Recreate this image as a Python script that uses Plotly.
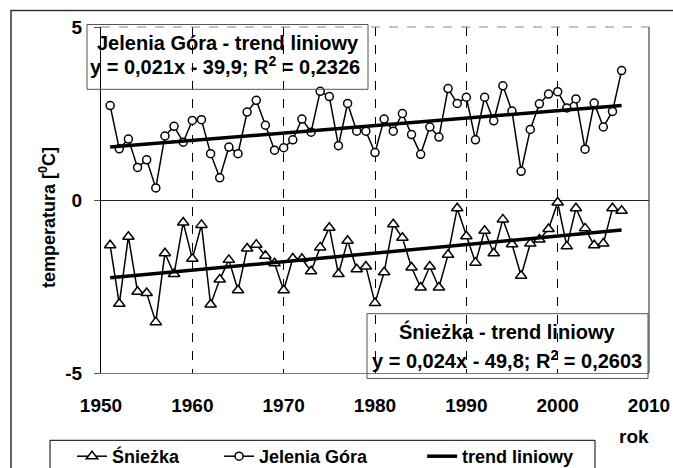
import plotly.graph_objects as go

years = list(range(1951, 2008))
jelenia_gora = [2.73, 1.48, 1.76, 0.94, 1.16, 0.35, 1.85, 2.13, 1.67, 2.30,
                2.32, 1.34, 0.64, 1.53, 1.34, 2.54, 2.88, 2.16, 1.44,
                1.51, 1.74, 2.34, 1.96, 3.14, 2.99, 1.57, 2.79, 1.99, 1.99,
                1.37, 2.34, 1.99, 2.50, 1.89, 1.32, 2.11, 1.82, 3.22, 2.79,
                2.97, 1.74, 2.97, 2.29, 3.30, 2.57, 0.83, 2.04, 2.78, 3.06,
                3.13, 2.66, 2.92, 1.47, 2.80, 2.11, 2.56, 3.74]
sniezka = [-1.31, -3.00, -1.06, -2.65, -2.69, -3.53, -1.54, -2.14, -0.65, -1.70,
           -0.72, -3.02, -2.30, -1.73, -2.61, -1.40, -1.29, -1.61, -1.83,
           -2.61, -1.69, -1.70, -2.06, -1.37, -0.80, -2.14, -1.18, -2.00, -1.92,
           -2.98, -2.09, -0.70, -1.09, -1.95, -2.53, -1.92, -2.53, -1.58, -0.24,
           -1.05, -1.81, -0.89, -1.54, -0.56, -1.28, -2.19, -1.26, -1.14, -0.84,
           -0.07, -1.34, -0.24, -0.82, -1.31, -1.26, -0.24, -0.31]
trend_years = [1951, 2007]
trend_jg = [1.53, 2.73]
trend_sn = [-2.25, -0.87]

x_ticks = [1950, 1960, 1970, 1980, 1990, 2000, 2010]
x_tick_labels = ["1950", "1960", "1970", "1980", "1990", "2000", "2010"]
y_ticks = [-5, 0, 5]
y_tick_labels = ["-5", "0", "5"]

FONT = "Liberation Sans, Arial, sans-serif"
W, H = 673, 468
L, R, T, B = 101, 649, 26.5, 373.5
NB = "\u00a0"


def px(xp):
    return (xp - L) / (R - L)


def py(yp):
    return (B - yp) / (B - T)


fig = go.Figure()
fig.add_trace(go.Scatter(
    x=years, y=sniezka, mode="lines+markers", name="Śnieżka" + NB * 7,
    line=dict(color="black", width=1.5),
    marker=dict(symbol="triangle-up", size=10, color="white",
                line=dict(color="black", width=1.5))))
fig.add_trace(go.Scatter(
    x=years, y=jelenia_gora, mode="lines+markers", name="Jelenia Góra" + NB * 10,
    line=dict(color="black", width=1.5),
    marker=dict(symbol="circle", size=8, color="white",
                line=dict(color="black", width=1.5))))
fig.add_trace(go.Scatter(
    x=trend_years, y=trend_sn, mode="lines", name="trend liniowy",
    line=dict(color="black", width=3.5)))
fig.add_trace(go.Scatter(
    x=trend_years, y=trend_jg, mode="lines", name="trend liniowy",
    showlegend=False, line=dict(color="black", width=3.5)))

shapes = [
    # outer chart border
    dict(type="rect", xref="paper", yref="paper",
         x0=px(11), x1=px(690), y0=py(10), y1=py(490),
         line=dict(color="#333", width=1.5), layer="below"),
    # plot top border
    dict(type="line", xref="paper", yref="paper",
         x0=0, x1=1, y0=1, y1=1, line=dict(color="#888", width=1, dash="dash")),
    # plot right border
    dict(type="line", xref="paper", yref="paper",
         x0=1, x1=1, y0=0, y1=1, line=dict(color="#444", width=1.2)),
    # text boxes
    dict(type="rect", xref="paper", yref="paper",
         x0=px(87), x1=px(368), y0=py(24), y1=py(89),
         line=dict(color="#555", width=1)),
    dict(type="rect", xref="paper", yref="paper",
         x0=px(367), x1=px(648), y0=py(314), y1=py(379),
         line=dict(color="#555", width=1)),
    # legend frame
    dict(type="rect", xref="paper", yref="paper",
         x0=px(50), x1=px(595), y0=py(441), y1=py(490),
         line=dict(color="black", width=1)),
]

ann_font = dict(family=FONT, size=20, color="black", weight="bold")
annotations = [
    dict(text="Jelenia Góra - trend liniowy", x=px(228), y=py(43)),
    dict(text="y = 0,021x - 39,9; R<sup>2</sup> = 0,2326", x=px(225), y=py(65)),
    dict(text="Śnieżka - trend liniowy", x=px(507), y=py(332)),
    dict(text="y = 0,024x - 49,8; R<sup>2</sup> = 0,2603", x=px(507), y=py(360)),
]
annotations = [dict(a, xref="paper", yref="paper", showarrow=False,
                    xanchor="center", yanchor="middle", font=ann_font)
               for a in annotations]
annotations.append(dict(text="temperatura [<sup>0</sup>C]", x=px(48), y=py(217),
                        xref="paper", yref="paper", showarrow=False, textangle=-90,
                        xanchor="center", yanchor="middle",
                        font=dict(family=FONT, size=18, color="black", weight="bold")))
annotations.append(dict(text="rok", x=px(634), y=py(437),
                        xref="paper", yref="paper", showarrow=False,
                        xanchor="center", yanchor="middle",
                        font=dict(family=FONT, size=19, color="black", weight="bold")))

fig.update_layout(
    width=W, height=H,
    margin=dict(l=L, r=W - R, t=T, b=H - B, pad=0, autoexpand=False),
    paper_bgcolor="white", plot_bgcolor="white",
    font=dict(family=FONT, size=19, color="black", weight="bold"),
    shapes=shapes, annotations=annotations,
    showlegend=True,
    legend=dict(orientation="h", xref="container", yref="container",
                x=72 / W, y=1 - 438 / H, xanchor="left", yanchor="top",
                borderwidth=0, bgcolor="rgba(0,0,0,0)",
                font=dict(family=FONT, size=18, color="black", weight="bold")),
    xaxis=dict(range=[1950, 2010], tickvals=x_ticks, ticktext=x_tick_labels,
               showgrid=True, gridcolor="black", griddash="dash", gridwidth=1,
               showline=True, linecolor="#777", linewidth=1.2, automargin=False,
               ticks="", ticklabelstandoff=15, zeroline=False,
               tickfont=dict(family=FONT, size=19, color="black", weight="bold")),
    yaxis=dict(range=[-5, 5], tickvals=y_ticks, ticktext=y_tick_labels,
               showgrid=False, zeroline=True, zerolinecolor="#222", zerolinewidth=1,
               showline=True, linecolor="black", linewidth=1.2, automargin=False,
               ticks="outside", ticklen=6, tickcolor="#555", ticklabelstandoff=8,
               tickfont=dict(family=FONT, size=19, color="black", weight="bold")),
)

fig.write_html("out.html", config={"displayModeBar": False},
               post_script="document.body.style.margin='0px';")
